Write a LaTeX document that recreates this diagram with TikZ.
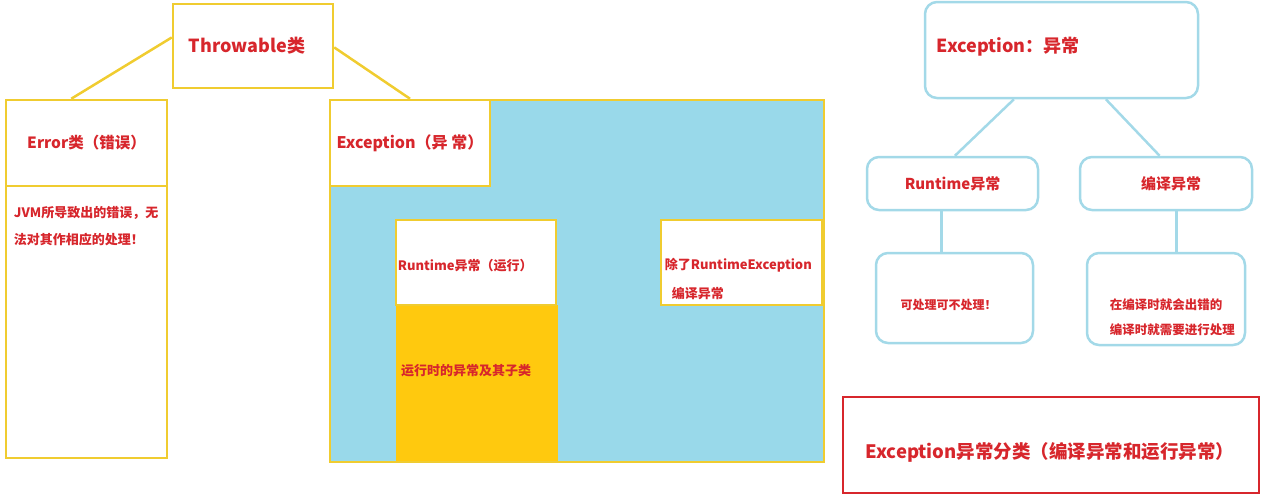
\documentclass[tikz,border=0pt]{standalone}
\usepackage{fontspec}
\setmainfont{Noto Sans CJK SC}
\usetikzlibrary{positioning}
\definecolor{boxyellow}{HTML}{F0CC30}
\definecolor{skyblue}{HTML}{99D9EA}
\definecolor{lineblue}{HTML}{A3D9E8}
\definecolor{amber}{HTML}{FFC90E}
\definecolor{textred}{HTML}{D7262C}

\begin{document}
\begin{tikzpicture} [x=1pt,y=-1pt,
    ybox/.style={draw=boxyellow,line width=2.5pt,fill=white,inner sep=0pt,
      text=textred,font=\bfseries},
    bbox/.style={draw=lineblue,line width=2.5pt,rounded corners=12pt,inner sep=0pt,
      text=textred,font=\bfseries},
    txt/.style={text=textred,font=\bfseries,inner sep=0pt,anchor=west}]
    \useasboundingbox (0,0) rectangle (1269,496);

    % Throwable tree
    \node[ybox,minimum width=160,minimum height=84,font=\bfseries\fontsize{18}{20}\selectfont]
      (throw) at (253,46) {Throwable类\hspace*{12pt}};
    \node[ybox,minimum width=161,minimum height=86,font=\bfseries\fontsize{15.5}{18}\selectfont]
      (errhead) at (86.5,143) {Error类（错误）};
    \node[ybox,minimum width=161,minimum height=272] (errbody) at (86.5,322) {};
    \node[txt,anchor=north west,align=left,font=\bfseries\fontsize{13}{27}\selectfont]
      at ([xshift=9pt,yshift=-21pt]errbody.north west)
      {JVM所导致出的错误，无\\法对其作相应的处理！};

    \node[ybox,fill=skyblue,minimum width=494,minimum height=362] (exc) at (577,281) {};
    \node[ybox,minimum width=160,minimum height=86,font=\bfseries\fontsize{16}{18}\selectfont]
      (exchead) at (410,143) {Exception（异 常）};
    \node[fill=amber,minimum width=162,minimum height=156,inner sep=0pt] (amber) at (477,383) {};
    \node[ybox,minimum width=160,minimum height=85] (rtbox) at (476,262.5) {};
    \node[ybox,minimum width=161,minimum height=85] (rebox) at (741.5,262.5) {};
    \node[txt,font=\bfseries\fontsize{13}{16}\selectfont]
      at ([xshift=3pt,yshift=-3pt]rtbox.west) {Runtime异常（运行）};
    \node[txt,font=\bfseries\fontsize{13}{16}\selectfont]
      at ([xshift=5pt,yshift=12pt]amber.west) {运行时的异常及其子类};
    \node[txt,font=\bfseries\fontsize{13}{16}\selectfont]
      at ([xshift=5pt,yshift=-3pt]rebox.west) {除了RuntimeException};
    \node[txt,font=\bfseries\fontsize{13}{16}\selectfont]
      at ([xshift=12pt,yshift=-31pt]rebox.west) {编译异常};

    \path[draw=boxyellow,line width=2.5pt]
      (throw.174) edge (errhead.109)
      (throw.-1) edge (exchead.north);

    % Exception tree
    \node[bbox,minimum width=273,minimum height=96] (exc2) at (1061.5,50) {};
    \node[txt,font=\bfseries\fontsize{18}{20}\selectfont]
      at ([xshift=13pt,yshift=3pt]exc2.west) {Exception：异常};
    \node[bbox,minimum width=171,minimum height=53,font=\bfseries\fontsize{15}{18}\selectfont]
      (rt) at (952.5,183.5) {Runtime异常};
    \node[bbox,minimum width=172,minimum height=53,font=\bfseries\fontsize{15}{18}\selectfont]
      (cp) at (1166,183.5) {\hspace*{10pt}编译异常};
    \node[bbox,minimum width=157,minimum height=90] (rtnote) at (954.5,298) {};
    \node[txt,anchor=center,font=\bfseries\fontsize{12}{15}\selectfont]
      at ([xshift=-6pt,yshift=-7pt]rtnote.center) {可处理可不处理！};
    \node[bbox,minimum width=158,minimum height=92] (cpnote) at (1166,299) {};
    \node[txt,align=left,font=\bfseries\fontsize{12.5}{25}\selectfont]
      at ([xshift=24pt,yshift=-18.5pt]cpnote.west)
      {在编译时就会出错的\\编译时就需要进行处理};

    \path[draw=lineblue,line width=2.5pt]
      (exc2.226) edge (rt.85)
      (exc2.-48) edge (cp.103)
      (rt.248) edge (rt.248 |- rtnote.north)
      (cp.-69) edge (cp.-69 |- cpnote.north);

    \node[draw=textred,line width=2.5pt,minimum width=416,minimum height=96,inner sep=0pt]
      (sum) at (1051,445) {};
    \node[txt,anchor=center,font=\bfseries\fontsize{18.5}{20}\selectfont]
      at ([xshift=-1pt,yshift=-7pt]sum.center) {Exception异常分类（编译异常和运行异常）};
\end{tikzpicture}
\end{document}
